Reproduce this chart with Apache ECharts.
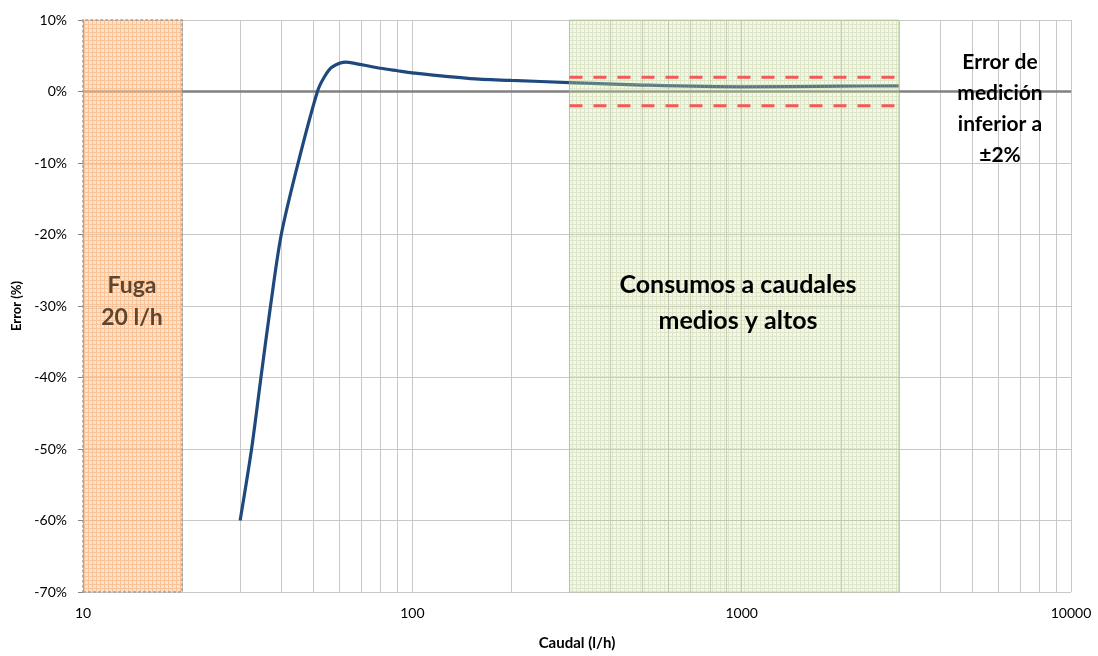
<!DOCTYPE html>
<html>
<head>
<meta charset="utf-8">
<script src="https://cdn.jsdelivr.net/npm/echarts@6/dist/echarts.min.js"></script>
<style>
html,body{margin:0;padding:0;background:#fff;}
#chart{width:1098px;height:656px;}
</style>
</head>
<body>
<div id="chart"></div>
<script>
// ---- data ----
const flowValues = [30, 32.5, 34.7, 37.1, 40, 45, 51.5, 54, 57, 63, 70, 80, 90, 100, 150, 200, 300, 500, 1000, 2000, 3000];
const errorValues = [-60, -50, -40, -30, -20, -10, 0, 2, 3.4, 4.1, 3.75, 3.25, 2.9, 2.6, 1.8, 1.55, 1.25, 0.9, 0.65, 0.75, 0.8];
const leakBand = [10, 20];
const mediumBand = [300, 3000];
const tolerance = [2, -2];
const minorGridX = [20, 30, 40, 50, 60, 70, 80, 90, 200, 300, 400, 500, 600, 700, 800, 900, 2000, 3000, 4000, 5000, 6000, 7000, 8000, 9000];
const yTicks = [-70, -60, -50, -40, -30, -20, -10, 0, 10];
const textLeak = ['Fuga', '20 l/h'];
const textMedium = ['Consumos a caudales', 'medios y altos'];
const textNote = ['Error de', 'medición', 'inferior a', '±2%'];

function pattern(bg, line, size) {
  const c = document.createElement('canvas');
  c.width = size; c.height = size;
  const ctx = c.getContext('2d');
  ctx.fillStyle = bg; ctx.fillRect(0, 0, size, size);
  ctx.fillStyle = line; ctx.fillRect(0, 0, size, 1); ctx.fillRect(0, 1, 1, size - 1);
  return { image: c, repeat: 'repeat' };
}

const FONT = 'Lato, "Open Sans", sans-serif';
const chart = echarts.init(document.getElementById('chart'));

const curve = flowValues.map((x, i) => [x, errorValues[i]]);

chart.setOption({
  animation: false,
  backgroundColor: '#fff',
  textStyle: { fontFamily: FONT },
  grid: { left: 83, right: 27, top: 20, bottom: 61 },
  xAxis: {
    type: 'log', logBase: 10, min: 10, max: 10000,
    name: 'Caudal (l/h)', nameLocation: 'middle', nameGap: 44,
    nameTextStyle: { fontFamily: FONT, fontWeight: 'bold', fontSize: 15, color: '#000' },
    axisLine: { show: true, lineStyle: { color: '#868686', width: 1 } },
    axisTick: { show: false },
    axisLabel: { fontFamily: FONT, fontSize: 14, color: '#000', margin: 14, formatter: v => String(Math.round(v)) },
    splitLine: { show: true, lineStyle: { color: '#c8c8c8', width: 1 } }
  },
  yAxis: {
    type: 'value', min: yTicks[0], max: yTicks[yTicks.length - 1], interval: 10,
    name: 'Error (%)', nameLocation: 'middle', nameGap: 58,
    nameTextStyle: { fontFamily: FONT, fontWeight: 'bold', fontSize: 13, color: '#000' },
    axisLine: { show: true, lineStyle: { color: '#868686', width: 1 } },
    axisTick: { show: true, inside: false, length: 5, lineStyle: { color: '#868686' } },
    axisLabel: { fontFamily: FONT, fontSize: 14, color: '#000', margin: 16, formatter: '{value}%' },
    splitLine: { show: true, lineStyle: { color: '#c8c8c8', width: 1 } }
  },
  series: [
    {
      name: 'grid', type: 'line', data: [], z: 1, silent: true,
      markLine: {
        z: 1, silent: true, symbol: ['none', 'none'], animation: false,
        label: { show: false },
        lineStyle: { color: '#c8c8c8', width: 1, type: 'solid' },
        data: minorGridX.map(v => ({ xAxis: v })).concat([
          { yAxis: 0, lineStyle: { color: '#808080', width: 2.5, type: 'solid' } }
        ])
      }
    },
    {
      name: 'Error', type: 'line', data: curve, z: 2,
      showSymbol: false, symbol: 'none',
      smooth: 0.3,
      lineStyle: { color: '#1f497d', width: 3.2 }
    },
    {
      name: 'bands', type: 'line', data: [], z: 3, silent: true,
      markArea: {
        z: 3, silent: true, animation: false,
        label: { show: false },
        data: [
          [
            { xAxis: leakBand[0], yAxis: yTicks[0],
              itemStyle: { color: pattern('rgba(250,200,160,0.55)', 'rgba(245,170,110,0.55)', 4), borderColor: '#a0a0a0', borderWidth: 1.5, borderType: [3, 2] } },
            { xAxis: leakBand[1], yAxis: yTicks[yTicks.length - 1] }
          ],
          [
            { xAxis: mediumBand[0], yAxis: yTicks[0],
              itemStyle: { color: pattern('rgba(214,226,188,0.3)', 'rgba(160,190,100,0.26)', 4), borderColor: 'rgba(170,195,130,0.6)', borderWidth: 1 } },
            { xAxis: mediumBand[1], yAxis: yTicks[yTicks.length - 1] }
          ]
        ]
      }
    },
    {
      name: '+2%', type: 'line', z: 4, silent: true, showSymbol: false, symbol: 'none',
      data: [[mediumBand[0], tolerance[0]], [mediumBand[1], tolerance[0]]],
      lineStyle: { color: '#f25a5a', width: 3, type: [13, 11] }
    },
    {
      name: '-2%', type: 'line', z: 4, silent: true, showSymbol: false, symbol: 'none',
      data: [[mediumBand[0], tolerance[1]], [mediumBand[1], tolerance[1]]],
      lineStyle: { color: '#f25a5a', width: 3, type: [13, 11] }
    }
  ],
  graphic: [
    {
      type: 'text', z: 10, silent: true, x: 132, y: 302,
      style: { text: textLeak.join('\n'), fill: '#5e4630', font: 'bold 23px ' + FONT, lineHeight: 32, align: 'center', verticalAlign: 'middle' }
    },
    {
      type: 'text', z: 10, silent: true, x: 738, y: 303,
      style: { text: textMedium.join('\n'), fill: '#000', font: 'bold 25px ' + FONT, lineHeight: 36, align: 'center', verticalAlign: 'middle' }
    },
    {
      type: 'text', z: 10, silent: true, x: 1000, y: 109,
      style: { text: textNote.join('\n'), fill: '#000', font: 'bold 21px ' + FONT, lineHeight: 31, align: 'center', verticalAlign: 'middle' }
    }
  ]
});
</script>
</body>
</html>
